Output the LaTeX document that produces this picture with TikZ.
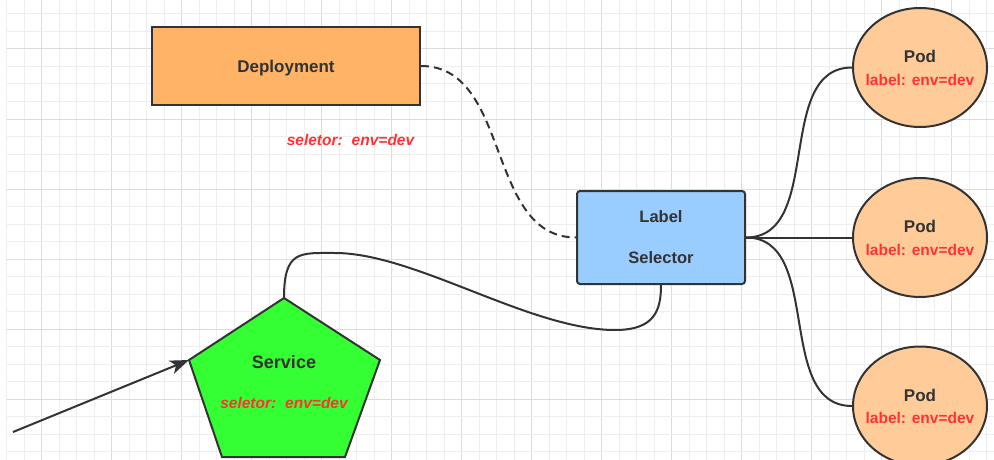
\documentclass[tikz,border=0pt]{standalone}
\usepackage{fontspec}
\setmainfont{Liberation Sans}
\usetikzlibrary{positioning,arrows.meta,shapes.geometric}
\definecolor{gridminor}{HTML}{EEEEEE}
\definecolor{gridmajor}{HTML}{DCDCDC}
\definecolor{deployfill}{HTML}{FFB366}
\definecolor{selfill}{HTML}{99CCFF}
\definecolor{podfill}{HTML}{FFCC99}
\definecolor{svcfill}{HTML}{33FF33}
\definecolor{edgegray}{HTML}{333333}
\definecolor{labred}{HTML}{FF3333}
\newcommand{\pxfont}[1]{\fontsize{#1pt}{#1pt}\selectfont\bfseries}

\begin{document}
\begin{tikzpicture}[x=1pt,y=-1pt,
		box/.style={draw=edgegray,line width=2pt,text=edgegray},
		pod/.style={box,ellipse,fill=podfill,minimum width=134pt,minimum height=119pt,inner sep=0pt},
		nametxt/.style={text=edgegray,font=\pxfont{16.5},inner sep=0pt},
		labtxt/.style={text=labred,font=\pxfont{15.5},inner sep=0pt},
		seltxt/.style={text=labred,font=\pxfont{15.5}\itshape,inner sep=0pt},
		wire/.style={draw=edgegray,line width=2pt}]
	\useasboundingbox (0,0) rectangle (994,460);
	\fill[white] (0,0) rectangle (994,460);
	% grid
	\foreach \i in {0,...,56}{
		\pgfmathtruncatemacro\m{mod(\i,4)}
		\ifnum\m=2 \def\gc{gridmajor}\else\def\gc{gridminor}\fi
		\draw[\gc,line width=1pt] (6.7+17.5*\i,0) -- (6.7+17.5*\i,460);
	}
	\foreach \j in {0,...,25}{
		\pgfmathtruncatemacro\m{mod(\j,4)}
		\ifnum\m=2 \def\gc{gridmajor}\else\def\gc{gridminor}\fi
		\draw[\gc,line width=1pt] (6.7,14+17.5*\j) -- (994,14+17.5*\j);
	}

	\node (deploy) at (286,66) [box,fill=deployfill,minimum width=268pt,minimum height=78pt,
		font=\pxfont{17},text depth=0pt] {Deployment};
	\node (depsel) at (350.5,146) [anchor=base,seltxt] {seletor:\hspace{9pt}env=dev};

	\node (selector) at (661,237.5) [box,fill=selfill,rounded corners=3pt,minimum width=168pt,
		minimum height=93pt,align=center,font=\pxfont{16.5}] {Label\\[24.5pt]Selector};

	\foreach \n/\cy in {1/67.5,2/237.5,3/406}{
		\node (pod\n) at (920,\cy) [pod] {};
		\node (podname\n) at (920,\cy-4.8) [anchor=base,nametxt,font=\pxfont{17}] {Pod};
		\node (podlab\n) at (920,\cy+17.5) [anchor=base,labtxt] {label: env=dev};
	}

	% service pentagon
	\draw[box,fill=svcfill] (284,298) coordinate (svctop) -- (380,360) -- (345,457)
		-- (222,457) -- (189,360) coordinate (svcleft) -- cycle;
	\node (svcname) at (284,368) [anchor=base,nametxt,font=\pxfont{18}] {Service};
	\node (svcsel) at (284,408) [anchor=base,seltxt] {seletor:\hspace{9pt}env=dev};

	\coordinate (src) at (13,432);
	\draw[wire,-{Stealth[length=19pt,width=14pt,inset=5pt]}] (src) -- (svcleft);

	\draw[wire,dash pattern=on 8pt off 5pt] (deploy.east) to[out=0,in=180] (selector.west);
	\draw[wire] (svctop) .. controls (284,250) and (300,253) .. (335,253)
		.. controls (415,253) and (530,330) .. (615,330)
		.. controls (655,330) and (661,310) .. (selector.south);
	\draw[wire] (selector.east) to[out=0,in=180] (pod1.west);
	\draw[wire] (selector.east) -- (pod2.west);
	\draw[wire] (selector.east) to[out=0,in=180] (pod3.west);
\end{tikzpicture}
\end{document}
